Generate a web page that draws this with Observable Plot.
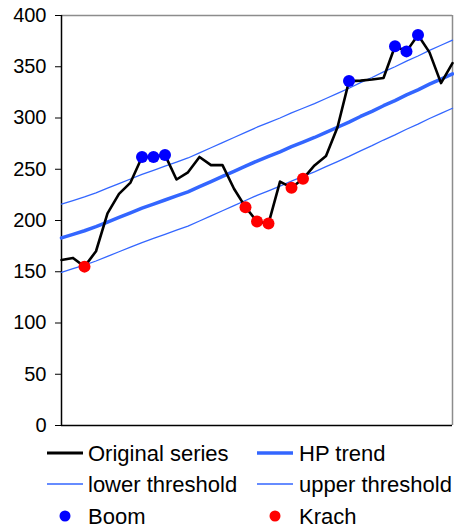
<!DOCTYPE html>
<html>
<head>
<meta charset="utf-8">
<script src="https://cdn.jsdelivr.net/npm/d3@7"></script>
<script src="https://cdn.jsdelivr.net/npm/@observablehq/plot@0.6"></script>
<style>
  html, body { margin: 0; padding: 0; background: #fff; }
  #wrap { position: relative; width: 454px; height: 529px; font-family: "Liberation Sans", Arial, sans-serif; }
  #legend { position: absolute; left: 0; top: 0; }
</style>
</head>
<body>
<div id="wrap"><div id="chart"></div></div>
<script>
// ---- data ----
const original = [161.5, 163.5, 155, 170, 207, 226, 237, 262, 262, 264, 240, 247, 262, 254, 254, 231, 213, 199, 197, 238, 232, 240.7, 253.7, 263, 291, 336, 336.5, 337.5, 339, 370, 365, 381, 364, 334, 353.5];
const hpTrend = [183, 186.5, 190, 194, 198.5, 203, 207.5, 212, 216, 220, 224, 228, 233, 238, 243, 248, 253, 258, 262.5, 267, 272, 276.5, 281, 286, 291, 296, 301.5, 306.5, 312, 317, 322.5, 327.5, 333, 338, 343];
const upperThreshold = [216, 219.5, 223, 227, 231.5, 236, 240.5, 245, 249, 253, 257, 261, 266, 271, 276, 281, 286, 291, 295.5, 300, 305, 309.5, 314, 319, 324, 329, 334.5, 339.5, 345, 350, 355.5, 360.5, 366, 371, 376];
const lowerThreshold = [149.5, 153, 156.5, 160.5, 165, 169.5, 174, 178.5, 182.5, 186.5, 190.5, 194.5, 199.5, 204.5, 209.5, 214.5, 219.5, 224.5, 229, 233.5, 238.5, 243, 247.5, 252.5, 257.5, 262.5, 268, 273, 278.5, 283.5, 289, 294, 299.5, 304.5, 309.5];
const boomIdx = [7, 8, 9, 25, 29, 30, 31];
const krachIdx = [2, 16, 17, 18, 20, 21];
const yTicks = [0, 50, 100, 150, 200, 250, 300, 350, 400];
const legendItems = ["Original series", "HP trend", "lower threshold", "upper threshold", "Boom", "Krach"];

const series = (arr) => arr.map((v, i) => ({i, v}));
const boom = boomIdx.map(i => ({i, v: original[i]}));
const krach = krachIdx.map(i => ({i, v: original[i]}));

const BLUE_LINE = "#3366FF";

const chart = Plot.plot({
  width: 454,
  height: 440,
  marginLeft: 61,
  marginRight: 2,
  marginTop: 15,
  marginBottom: 15,
  style: {fontFamily: "'Liberation Sans', Arial, sans-serif", fontSize: "20px", color: "#000", background: "#fff"},
  x: {domain: [0, original.length - 1], axis: null},
  y: {domain: [0, 400]},
  marks: [
    Plot.ruleY([400], {stroke: "#8c8c8c", strokeWidth: 1.5}),
    Plot.ruleX([original.length - 1], {stroke: "#8c8c8c", strokeWidth: 1.5}),
    Plot.axisY({ticks: yTicks, tickSize: 6, tickPadding: 9, stroke: "#000", strokeOpacity: 1, fill: "#000", fontSize: 20, label: null, tickFormat: d => String(d)}),
    Plot.ruleX([0], {stroke: "#000", strokeWidth: 1.5}),
    Plot.ruleY([0], {stroke: "#000", strokeWidth: 1.5}),
    Plot.line(series(upperThreshold), {x: "i", y: "v", stroke: BLUE_LINE, strokeWidth: 1.3}),
    Plot.line(series(lowerThreshold), {x: "i", y: "v", stroke: BLUE_LINE, strokeWidth: 1.3}),
    Plot.line(series(hpTrend), {x: "i", y: "v", stroke: BLUE_LINE, strokeWidth: 3.5}),
    Plot.line(series(original), {x: "i", y: "v", stroke: "#000", strokeWidth: 2.6, curve: "linear"}),
    Plot.dot(boom, {x: "i", y: "v", r: 6, fill: "#0000FF", stroke: "none"}),
    Plot.dot(krach, {x: "i", y: "v", r: 6, fill: "#FF0000", stroke: "none"})
  ]
});
document.getElementById("chart").appendChild(chart);

// ---- legend below the chart ----
const legend = d3.select("#wrap").append("svg")
  .attr("id", "legend")
  .attr("width", 454).attr("height", 529)
  .style("pointer-events", "none");
const rows = [453, 484, 516];
const colSw = [47, 257];
const colTx = [88, 299];
const items = [
  {type: "line", stroke: "#000", w: 2.8},
  {type: "line", stroke: BLUE_LINE, w: 3.5},
  {type: "line", stroke: BLUE_LINE, w: 1.3},
  {type: "line", stroke: BLUE_LINE, w: 1.3},
  {type: "dot", fill: "#0000FF"},
  {type: "dot", fill: "#FF0000"}
];
items.forEach((it, k) => {
  const r = Math.floor(k / 2), c = k % 2;
  const y = rows[r];
  if (it.type === "line") {
    legend.append("line").attr("x1", colSw[c]).attr("x2", colSw[c] + 36)
      .attr("y1", y).attr("y2", y).attr("stroke", it.stroke).attr("stroke-width", it.w);
  } else {
    legend.append("circle").attr("cx", colSw[c] + 18).attr("cy", y).attr("r", 5.5).attr("fill", it.fill);
  }
  legend.append("text").attr("x", colTx[c]).attr("y", y).attr("dy", "0.36em")
    .attr("font-family", "'Liberation Sans', Arial, sans-serif").attr("font-size", 22)
    .attr("fill", "#000").text(legendItems[k]);
});
</script>
</body>
</html>
